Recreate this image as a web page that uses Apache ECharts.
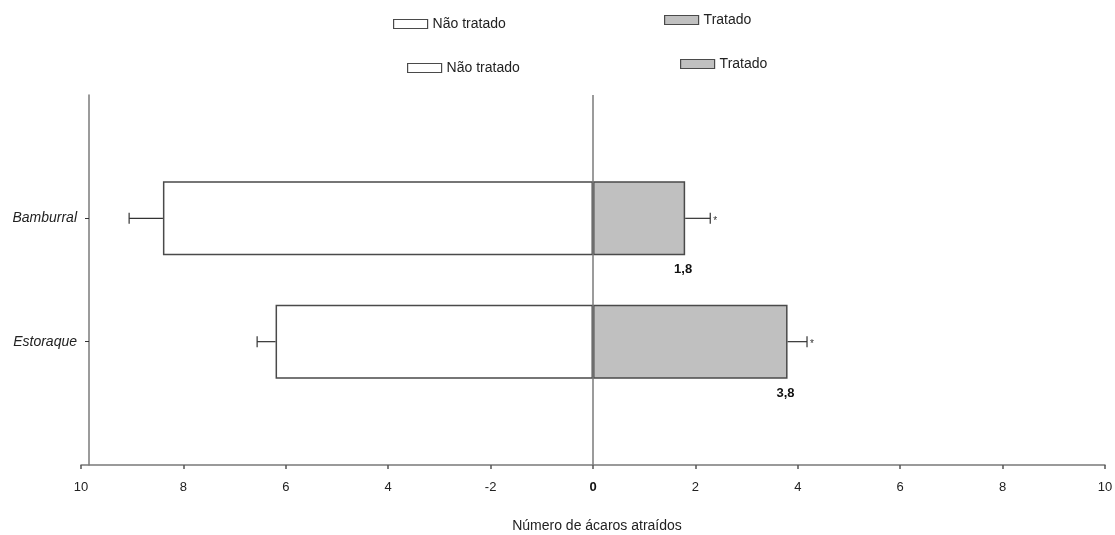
<!DOCTYPE html>
<html>
<head>
<meta charset="utf-8">
<script src="https://cdn.jsdelivr.net/npm/echarts@6/dist/echarts.min.js"></script>
<style>
  html, body { margin: 0; padding: 0; background: #fff; overflow: hidden; }
  #chart { width: 1115px; height: 535px; }
</style>
</head>
<body>
<div id="chart"></div>
<script>
// Number of mites attracted per site: untreated (left) vs treated (right)
const categories = ['Bamburral', 'Estoraque'];
const untreated = [8.4, 6.2];
const untreatedSE = [0.66, 0.36];
const treated = [1.8, 3.8];
const treatedSE = [0.49, 0.38];
const significance = ['*', '*'];
const xTickLabels = ['10', '8', '6', '4', '-2', '0', '2', '4', '6', '8', '10'];

const FONT = '"Liberation Sans", Arial, sans-serif';
const AXIS_GRAY = '#7a7a7a';
const EDGE = '#4a4a4a';

// padded category axis so the two groups sit at 1/3 and 2/3 of the height
const yCats = [''].concat(categories, ['']);
const pad = arr => [null].concat(arr, [null]);

const untreatedData = pad(untreated.map(v => -v));
const treatedData = pad(treated);

const errorRows = [];
categories.forEach((c, i) => {
  errorRows.push([i + 1, -untreated[i], -untreatedSE[i], '']);
  errorRows.push([i + 1, treated[i], treatedSE[i], significance[i]]);
});

const chart = echarts.init(document.getElementById('chart'), null, { renderer: 'canvas' });

function legendBox(name, left, top, fill) {
  return {
    left: left, top: top, padding: 0, icon: 'rect',
    itemWidth: 34, itemHeight: 9, itemGap: 0,
    selectedMode: false,
    textStyle: { fontFamily: FONT, fontSize: 14, color: '#222', lineHeight: 16 },
    data: [{ name: name, itemStyle: { color: fill, borderColor: EDGE, borderWidth: 1.2 } }]
  };
}

chart.setOption({
  animation: false,
  backgroundColor: '#fff',
  textStyle: { fontFamily: FONT },
  legend: [
    legendBox('Não tratado', 393, 16, '#ffffff'),
    legendBox('Tratado', 664, 12, '#c0c0c0'),
    legendBox('Não tratado', 407, 60, '#ffffff'),
    legendBox('Tratado', 680, 56, '#c0c0c0')
  ],
  grid: { left: 81, right: 10, top: 95, bottom: 70, containLabel: false, outerBoundsMode: 'none' },
  xAxis: {
    type: 'value', min: -10, max: 10, interval: 2,
    splitLine: { show: false },
    axisLine: { show: true, onZero: false, lineStyle: { color: AXIS_GRAY, width: 1.5 } },
    axisTick: { show: true, length: 4, lineStyle: { color: '#555', width: 1.5 } },
    axisLabel: {
      margin: 16, fontSize: 13, color: '#222', fontFamily: FONT,
      formatter: v => {
        const s = xTickLabels[Math.round((v + 10) / 2)];
        return v === 0 ? '{b|' + s + '}' : s;
      },
      rich: { b: { fontWeight: 'bold', fontSize: 13, color: '#111', fontFamily: FONT } }
    },
    name: 'Número de ácaros atraídos',
    nameLocation: 'middle', nameGap: 54,
    nameTextStyle: { fontSize: 14, color: '#222', fontFamily: FONT, padding: [0, 0, 0, 8] }
  },
  yAxis: {
    type: 'category', data: yCats, inverse: true, boundaryGap: false,
    offset: -8,
    axisLine: { show: true, onZero: false, lineStyle: { color: AXIS_GRAY, width: 1.5 } },
    axisTick: {
      show: true, length: 4, lineStyle: { color: '#333', width: 1 },
      interval: (i) => i > 0 && i < yCats.length - 1
    },
    axisLabel: {
      margin: 12, fontSize: 14, fontStyle: 'italic', color: '#222', fontFamily: FONT,
      interval: (i) => i > 0 && i < yCats.length - 1
    },
    splitLine: { show: false }
  },
  series: [
    {
      name: 'Não tratado', type: 'bar', data: untreatedData,
      barWidth: 74, barGap: '-100%',
      itemStyle: { color: '#ffffff', borderColor: EDGE, borderWidth: 1.5 }
    },
    {
      name: 'Tratado', type: 'bar', data: treatedData,
      barWidth: 74, barGap: '-100%',
      itemStyle: { color: '#c0c0c0', borderColor: EDGE, borderWidth: 1.5 },
      label: {
        show: true, position: ['100%', '100%'], align: 'center', verticalAlign: 'top',
        offset: [-2, 8], fontSize: 13, fontWeight: 'bold', color: '#111', fontFamily: FONT,
        formatter: p => p.value == null ? '' : p.value.toFixed(1).replace('.', ',')
      },
      markLine: {
        silent: true, symbol: 'none', label: { show: false },
        lineStyle: { color: AXIS_GRAY, width: 1.5, type: 'solid' },
        data: [{ xAxis: 0 }]
      }
    },
    {
      name: 'erro', type: 'custom', data: errorRows,
      encode: { x: 1, y: 0 },
      z: 5,
      renderItem: (params, api) => {
        const cat = api.value(0);
        const v = api.value(1);
        const se = api.value(2);
        const mark = errorRows[params.dataIndex][3];
        const a = api.coord([v, cat]);
        const b = api.coord([v + se, cat]);
        const h = 5.5;
        const style = { stroke: '#333', lineWidth: 1.2 };
        const children = [
          { type: 'line', shape: { x1: a[0], y1: a[1], x2: b[0], y2: b[1] }, style: style },
          { type: 'line', shape: { x1: b[0], y1: b[1] - h, x2: b[0], y2: b[1] + h }, style: style }
        ];
        if (mark) {
          children.push({
            type: 'text',
            style: {
              text: mark, x: b[0] + 3, y: b[1] + 3,
              fontSize: 10, fill: '#333', fontFamily: FONT,
              align: 'left', verticalAlign: 'middle'
            }
          });
        }
        return { type: 'group', children: children };
      }
    }
  ]
});
</script>
</body>
</html>
